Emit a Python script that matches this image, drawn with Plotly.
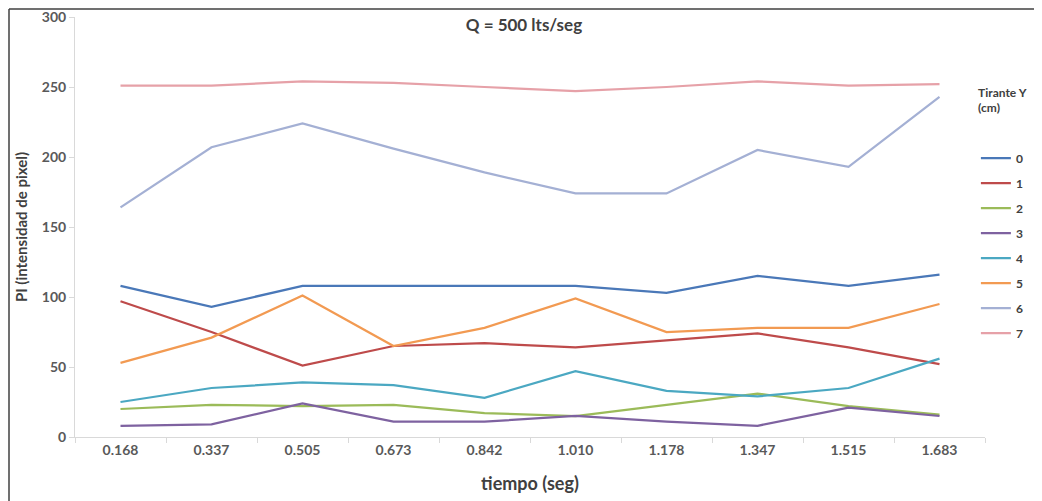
"""
Pixel intensity over time, Q = 500 lts/seg.
"""
import plotly.graph_objects as go

tiempo = ["0.168", "0.337", "0.505", "0.673", "0.842",
          "1.010", "1.178", "1.347", "1.515", "1.683"]

tirante = ["0", "1", "2", "3", "4", "5", "6", "7"]

pi_0 = [108, 93, 108, 108, 108, 108, 103, 115, 108, 116]
pi_1 = [97, 75, 51, 65, 67, 64, 69, 74, 64, 52]
pi_2 = [20, 23, 22, 23, 17, 15, 23, 31, 22, 16]
pi_3 = [8, 9, 24, 11, 11, 15, 11, 8, 21, 15]
pi_4 = [25, 35, 39, 37, 28, 47, 33, 29, 35, 56]
pi_5 = [53, 71, 101, 65, 78, 99, 75, 78, 78, 95]
pi_6 = [164, 207, 224, 206, 189, 174, 174, 205, 193, 243]
pi_7 = [251, 251, 254, 253, 250, 247, 250, 254, 251, 252]

series = [pi_0, pi_1, pi_2, pi_3, pi_4, pi_5, pi_6, pi_7]
colors = ["#4A78B8", "#BE4B4B", "#9BBB59", "#7E62A0",
          "#4BA8C2", "#F29A52", "#A4B0D4", "#E6A1A8"]

fig = go.Figure()
for name, vals, col in zip(tirante, series, colors):
    fig.add_trace(go.Scatter(
        x=tiempo, y=vals, name=name, mode="lines",
        legendgroup=name,
        line=dict(color=col, width=2.25),
    ))

font_main = "Lato, 'Open Sans', sans-serif"

# page body adds an 8px offset, so the figure is 8px smaller than the window
fig.update_layout(
    width=1034, height=493,
    paper_bgcolor="white", plot_bgcolor="white",
    margin=dict(l=67, r=57, t=9, b=64, autoexpand=False),
    font=dict(family=font_main, color="#595959"),
    title=dict(text="<b>Q = 500 lts/seg</b>", x=0.499, xanchor="center",
               y=0.966, yanchor="middle",
               font=dict(size=17, color="#404040")),
    showlegend=True,
    legend=dict(
        x=0.99, xanchor="left", y=0.847, yanchor="top",
        title=dict(text="<b>Tirante Y<br>(cm)</b><br> <br> ", side="top center",
                   font=dict(size=12, color="#404040")),
        font=dict(size=12, color="#404040", weight="bold"),
        itemwidth=30, tracegroupgap=6,
        bgcolor="rgba(0,0,0,0)",
    ),
    xaxis=dict(
        type="category", range=[-0.5, 9.5],
        showline=True, linecolor="#D9D9D9", linewidth=1,
        ticks="outside", tickson="boundaries", tickcolor="#D9D9D9",
        ticklen=5, showgrid=False,
        tickfont=dict(size=14, color="#595959", weight="bold"),
        title=dict(text="<b>tiempo (seg)</b>", standoff=20,
                   font=dict(size=18, color="#404040")),
    ),
    yaxis=dict(
        range=[0, 300], dtick=50,
        showline=True, linecolor="#D9D9D9", linewidth=1,
        ticks="outside", tickcolor="#D9D9D9", ticklen=5,
        ticklabeloverflow="allow",
        showgrid=False, zeroline=False,
        tickfont=dict(size=14, color="#595959", weight="bold"),
        title=dict(text="<b>PI (intensidad de pixel)</b>", standoff=10,
                   font=dict(size=15, color="#404040")),
    ),
)

# thin frame on the left and top edges of the picture
fig.add_shape(type="line", xref="paper", yref="paper",
              x0=-66 / 910, x1=-66 / 910, y0=-1.0, y1=1 + 8 / 420,
              line=dict(color="#404040", width=1.5))
fig.add_shape(type="line", xref="paper", yref="paper",
              x0=-66 / 910, x1=1.2, y0=1 + 8 / 420, y1=1 + 8 / 420,
              line=dict(color="#404040", width=1.5))

fig.write_html("out.html")
